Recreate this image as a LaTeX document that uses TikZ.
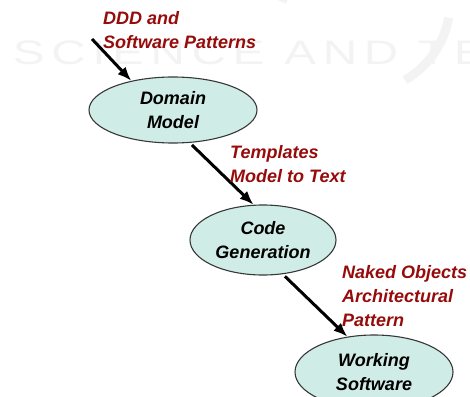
\documentclass[tikz,border=0pt]{standalone}
\usepackage{fontspec}
\setmainfont{Liberation Sans}
\newfontfamily\wmfont[LetterSpace=14]{Liberation Sans}
\usetikzlibrary{shapes.geometric, arrows.meta}
\definecolor{labelred}{RGB}{150,12,12}
\definecolor{modelfill}{RGB}{208,236,230}
\definecolor{modelline}{RGB}{55,55,55}
\definecolor{wmgray}{RGB}{243,243,243}
\begin{document}
\begin{tikzpicture}[x=1pt, y=-1pt, >={Latex[length=14pt, width=11pt]},
  every node/.style={font=\fontsize{18}{24}\selectfont\bfseries\itshape},
  modelnode/.style={ellipse, draw=modelline, fill=modelfill, line width=1.1pt, align=center, inner sep=0pt},
  steplabel/.style={text=labelred, align=left, anchor=north west, inner sep=0pt},
  flowarrow/.style={->, line width=3pt}]
  \useasboundingbox (0,0) rectangle (470,396);
  % watermark
  \node[font=\wmfont\fontsize{34}{34}\selectfont, text=wmgray, anchor=west, xscale=1.4, transform shape] (wm) at (8,53) {SCIENCE AND TEC};
  \draw[wmgray, line width=9pt] (282,2) arc (200:250:60);
  \draw[wmgray, line width=9pt] (405,80) arc (60:10:90);
  % models
  \node[modelnode, minimum width=168pt, minimum height=66pt] (dm) at (173,110) {Domain\\Model};
  \node[modelnode, minimum width=146pt, minimum height=70pt] (cg) at (263,240) {Code\\Generation};
  \node[modelnode, minimum width=158pt, minimum height=74pt] (ws) at (374,372) {Working\\Software};
  % transformations
  \coordinate (start) at (92,39);
  \draw[flowarrow] (start) -- (dm.145);
  \draw[flowarrow, shorten <=3pt] (dm.-63) -- (cg.105);
  \draw[flowarrow, shorten <=3pt] (cg.-60) -- (ws.127);
  % labels
  \node[steplabel] (ddd) at (103,11) {DDD and\\Software Patterns};
  \node[steplabel] (tpl) at (230,145) {Templates\\Model to Text};
  \node[steplabel] (nop) at (342,265) {Naked Objects\\Architectural\\Pattern};
\end{tikzpicture}
\end{document}
